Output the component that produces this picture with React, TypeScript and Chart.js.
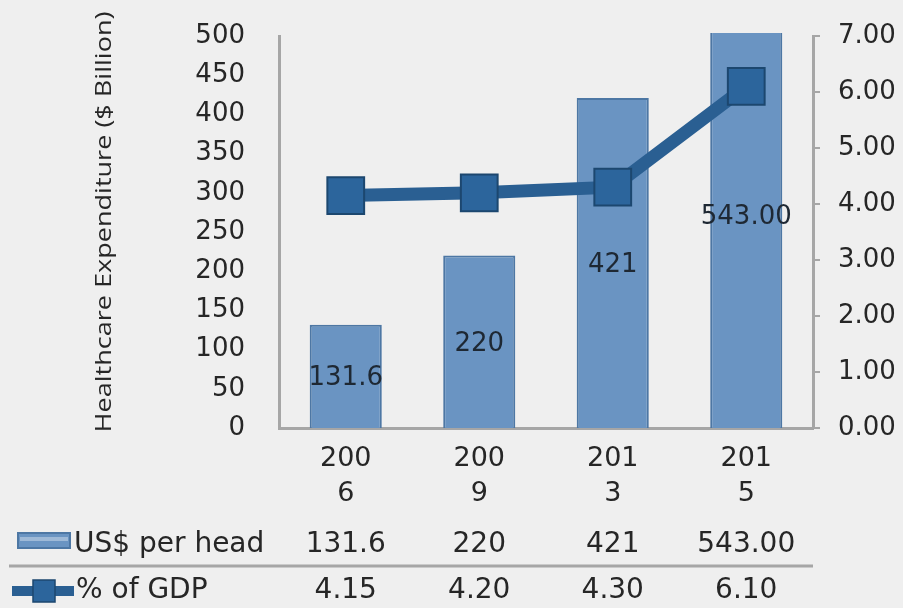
import React, { useEffect, useRef } from "react";
import { Chart, registerables } from "chart.js";

Chart.register(...registerables);

// ---- data ----
const categories: string[][] = [["200", "6"], ["200", "9"], ["201", "3"], ["201", "5"]];
const usdPerHead: number[] = [131.6, 220, 421, 543];
const usdLabels: string[] = ["131.6", "220", "421", "543.00"];
const gdpPct: number[] = [4.15, 4.2, 4.3, 6.1];
const gdpLabels: string[] = ["4.15", "4.20", "4.30", "6.10"];
const seriesNames: string[] = ["US$ per head", "% of GDP"];
const yTitle = "Healthcare Expenditure ($ Billion)";
const leftMin = 0;
const leftMax = 500;
const leftStep = 50;
const rightMin = 0;
const rightMax = 7;
const rightStep = 1;

// ---- style ----
const BG = "#efefef";
const AXIS = "#a6a6a6";
const TEXT = "#262626";
const BAR = "#6a94c2";
const BAR_BORDER = "#4d77a4";
const LINE = "#2a5f92";
const MARK = "#2c659c";
const MARK_BORDER = "#1c476f";
const FONT = "'DejaVu Sans', sans-serif";

const PLOT_LEFT = 279;
const PLOT_RIGHT = 813;
const PLOT_TOP = 36;
const PLOT_BOTTOM = 428;
const W = 903;
const H = 608;

const bgPlugin = {
  id: "bg",
  beforeDraw(chart: any) {
    const { ctx } = chart;
    ctx.save();
    ctx.fillStyle = BG;
    ctx.fillRect(0, 0, chart.width, chart.height);
    ctx.restore();
  },
};

const barLabelPlugin = {
  id: "barLabels",
  afterDatasetsDraw(chart: any) {
    const meta = chart.getDatasetMeta(0);
    const { ctx } = chart;
    ctx.save();
    ctx.font = `26px ${FONT}`;
    ctx.fillStyle = "#1e2833";
    ctx.textAlign = "center";
    ctx.textBaseline = "middle";
    meta.data.forEach((el: any, i: number) => {
      const { x, y, base } = el.getProps(["x", "y", "base"], true);
      ctx.fillText(usdLabels[i], x, (y + base) / 2 + 2);
    });
    ctx.restore();
  },
};

const extrasPlugin = {
  id: "extras",
  afterDraw(chart: any) {
    const { ctx } = chart;
    const xs = chart.scales.x;
    ctx.save();

    // y axis title (rotated)
    ctx.save();
    ctx.font = `21px 'Open Sans', sans-serif`;
    ctx.fillStyle = TEXT;
    ctx.textAlign = "center";
    ctx.textBaseline = "middle";
    const tw = ctx.measureText(yTitle).width;
    ctx.translate(105, 222);
    ctx.rotate(-Math.PI / 2);
    ctx.scale(421 / tw, 1);
    ctx.fillText(yTitle, 0, 0);
    ctx.restore();

    // data table
    const row1 = 545;
    const row2 = 591;
    ctx.font = `28px ${FONT}`;
    ctx.textBaseline = "middle";

    // row 1 legend key
    ctx.fillStyle = BAR;
    ctx.fillRect(18, 533, 52, 15);
    ctx.strokeStyle = BAR_BORDER;
    ctx.lineWidth = 2;
    ctx.strokeRect(18, 533, 52, 15);
    ctx.fillStyle = "rgba(255,255,255,0.35)";
    ctx.fillRect(20, 537, 48, 4);
    ctx.fillStyle = TEXT;
    ctx.textAlign = "left";
    ctx.fillText(seriesNames[0], 74, row1);
    ctx.textAlign = "center";
    usdLabels.forEach((t, i) => ctx.fillText(t, xs.getPixelForValue(i), row1));

    // separator
    ctx.strokeStyle = AXIS;
    ctx.lineWidth = 3;
    ctx.beginPath();
    ctx.moveTo(9, 566);
    ctx.lineTo(PLOT_RIGHT, 566);
    ctx.stroke();

    // row 2 legend key
    ctx.strokeStyle = LINE;
    ctx.lineWidth = 10;
    ctx.beginPath();
    ctx.moveTo(12, row2);
    ctx.lineTo(74, row2);
    ctx.stroke();
    ctx.fillStyle = MARK;
    ctx.fillRect(33, row2 - 11, 22, 22);
    ctx.strokeStyle = MARK_BORDER;
    ctx.lineWidth = 1.5;
    ctx.strokeRect(33, row2 - 11, 22, 22);
    ctx.fillStyle = TEXT;
    ctx.textAlign = "left";
    ctx.fillText(seriesNames[1], 76, row2);
    ctx.textAlign = "center";
    gdpLabels.forEach((t, i) => ctx.fillText(t, xs.getPixelForValue(i), row2));

    ctx.restore();
  },
};

export default function App() {
  const ref = useRef<HTMLCanvasElement>(null);

  useEffect(() => {
    const canvas = ref.current!;
    const chart = new Chart(canvas, {
      type: "bar",
      data: {
        labels: categories,
        datasets: [
          {
            type: "bar",
            label: seriesNames[0],
            data: usdPerHead,
            yAxisID: "y",
            backgroundColor: BAR,
            borderColor: BAR_BORDER,
            borderWidth: 2,
            barPercentage: 0.54,
            categoryPercentage: 1,
            order: 2,
            clip: { left: 0, right: 0, top: 3, bottom: 0 },
          } as any,
          {
            type: "line",
            label: seriesNames[1],
            data: gdpPct,
            yAxisID: "y1",
            borderColor: LINE,
            borderWidth: 13,
            tension: 0,
            pointStyle: "rect",
            pointRadius: 26,
            pointBackgroundColor: MARK,
            pointBorderColor: MARK_BORDER,
            pointBorderWidth: 2,
            order: 1,
            clip: false,
          } as any,
        ],
      },
      options: {
        responsive: false,
        animation: false,
        events: [],
        layout: { padding: { top: PLOT_TOP, left: 0, right: 0, bottom: 0 } },
        plugins: {
          legend: { display: false },
          tooltip: { enabled: false },
          title: { display: false },
        },
        scales: {
          x: {
            grid: { display: false },
            border: { display: true, color: AXIS, width: 3 },
            ticks: {
              color: TEXT,
              font: { family: FONT, size: 27, lineHeight: 1.3 },
              padding: 5,
              maxRotation: 0,
              autoSkip: false,
            },
            afterFit(s: any) {
              s.height = H - PLOT_BOTTOM;
              s.paddingLeft = 0;
              s.paddingRight = 0;
            },
          },
          y: {
            position: "left",
            min: leftMin,
            max: leftMax,
            grid: { display: false },
            border: { display: true, color: AXIS, width: 3 },
            ticks: {
              stepSize: leftStep,
              color: TEXT,
              font: { family: FONT, size: 26 },
              padding: 26,
            },
            afterFit(s: any) {
              s.width = PLOT_LEFT;
              s.paddingTop = 0;
              s.paddingBottom = 0;
            },
          },
          y1: {
            position: "right",
            min: rightMin,
            max: rightMax,
            grid: {
              display: true,
              drawOnChartArea: false,
              drawTicks: true,
              tickLength: 7,
              color: AXIS,
              lineWidth: 2,
            },
            border: { display: true, color: AXIS, width: 3 },
            ticks: {
              stepSize: rightStep,
              color: TEXT,
              font: { family: FONT, size: 26 },
              padding: 18,
              callback: (v: any) => Number(v).toFixed(2),
            },
            afterFit(s: any) {
              s.width = W - PLOT_RIGHT;
              s.paddingTop = 0;
              s.paddingBottom = 0;
            },
          },
        },
      },
      plugins: [bgPlugin, barLabelPlugin, extrasPlugin],
    });
    return () => chart.destroy();
  }, []);

  return (
    <div style={{ position: "absolute", left: 0, top: 0, width: W, height: H, background: BG }}>
      <canvas ref={ref} width={W} height={H} style={{ display: "block", width: W, height: H }} />
    </div>
  );
}
